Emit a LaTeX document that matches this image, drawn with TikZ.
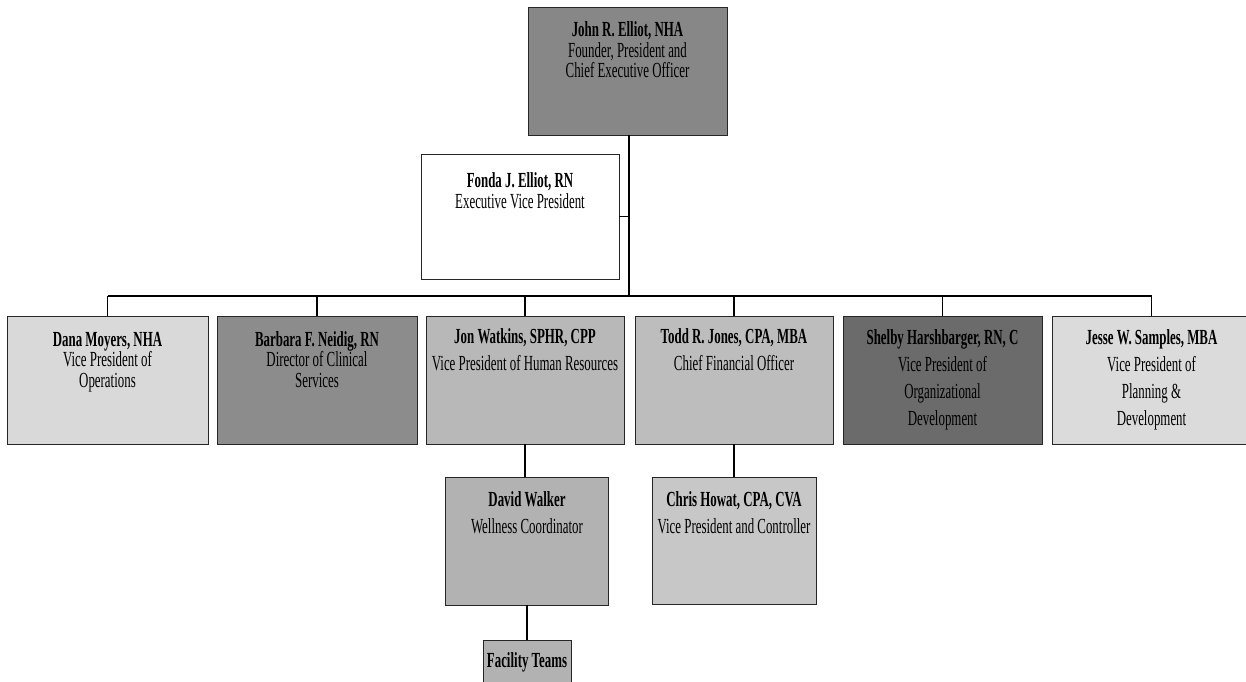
\documentclass[tikz,border=0pt]{standalone}
\usepackage{fontspec}
\setmainfont[FakeStretch=0.6]{Liberation Serif}
\newcommand\hstrut{\rule{0pt}{15.5pt}}
\begin{document}
\begin{tikzpicture}[x=1pt,y=-1pt,
  orgbox/.style={draw=black!85, line width=0.8pt, inner sep=0pt, rectangle},
  lbl/.style={anchor=north, inner sep=0pt, align=center, text=black},
  tight/.style={font=\fontsize{21.5}{20.5}\selectfont},
  loose/.style={font=\fontsize{21.5}{27}\selectfont},
  link/.style={line width=1.5pt, draw=black}]
\useasboundingbox (0,0) rectangle (1246,681);
% boxes
\node[orgbox, fill=black!47, minimum width=199pt, minimum height=128pt] (ceo) at (627.5,71) {};
\node[orgbox, fill=white, minimum width=198pt, minimum height=125pt] (fonda) at (520,216.5) {};
\node[orgbox, fill=black!15, minimum width=201pt, minimum height=128pt] (dana) at (107.5,380) {};
\node[orgbox, fill=black!45, minimum width=200pt, minimum height=128pt] (barbara) at (317,380) {};
\node[orgbox, fill=black!28, minimum width=198pt, minimum height=128pt] (jon) at (525,380) {};
\node[orgbox, fill=black!26, minimum width=198pt, minimum height=128pt] (todd) at (734,380) {};
\node[orgbox, fill=black!58, minimum width=199pt, minimum height=128pt] (shelby) at (942.5,380) {};
\node[orgbox, fill=black!14, minimum width=199pt, minimum height=128pt] (jesse) at (1151.5,380) {};
\node[orgbox, fill=black!30, minimum width=163pt, minimum height=128pt] (david) at (527,541) {};
\node[orgbox, fill=black!22, minimum width=164pt, minimum height=127pt] (chris) at (734,540.5) {};
\node[orgbox, fill=black!30, minimum width=88pt, minimum height=44pt] (facility) at (527,662) {};
% connectors
\coordinate (bus) at (629,296);
\draw[link] (bus |- ceo.south) -- (bus);
\draw[link] (fonda.east) -- (fonda.east -| bus);
\draw[link] (bus -| dana.north) -- (bus -| jesse.north);
\foreach \n in {dana,barbara,jon,todd,shelby,jesse}
  \draw[link] (bus -| \n.north) -- (\n.north);
\draw[link] (jon.south) -- (jon.south |- david.north);
\draw[link] (todd.south) -- (todd.south |- chris.north);
\draw[link] (david.south) -- (david.south |- facility.north);
% texts
\node[lbl, tight] (ceo-t) at ([yshift=-14.5pt]ceo.north) {\hstrut\textbf{John R. Elliot, NHA}\\Founder, President and\\Chief Executive Officer};
\node[lbl, tight] (fonda-t) at ([yshift=-18.5pt]fonda.north) {\hstrut\textbf{Fonda J. Elliot, RN}\\Executive Vice President};
\node[lbl, tight] (dana-t) at ([yshift=-15pt]dana.north) {\hstrut\textbf{Dana Moyers, NHA}\\Vice President of\\Operations};
\node[lbl, tight] (barbara-t) at ([yshift=-15pt]barbara.north) {\hstrut\textbf{Barbara F. Neidig, RN}\\Director of Clinical\\Services};
\node[lbl, loose] (jon-t) at ([yshift=-12.5pt]jon.north) {\hstrut\textbf{Jon Watkins, SPHR, CPP}\\Vice President of Human Resources};
\node[lbl, loose] (todd-t) at ([yshift=-12.5pt]todd.north) {\hstrut\textbf{Todd R. Jones, CPA, MBA}\\Chief Financial Officer};
\node[lbl, loose] (shelby-t) at ([yshift=-13pt]shelby.north) {\hstrut\textbf{Shelby Harshbarger, RN, C}\\Vice President of\\Organizational\\Development};
\node[lbl, loose] (jesse-t) at ([yshift=-13pt]jesse.north) {\hstrut\textbf{Jesse W. Samples, MBA}\\Vice President of\\Planning \&\\Development};
\node[lbl, loose] (david-t) at ([yshift=-14.5pt]david.north) {\hstrut\textbf{David Walker}\\Wellness Coordinator};
\node[lbl, loose] (chris-t) at ([yshift=-14.5pt]chris.north) {\hstrut\textbf{Chris Howat, CPA, CVA}\\Vice President and Controller};
\node[lbl, tight] (facility-t) at ([yshift=-12.5pt]facility.north) {\hstrut\textbf{Facility Teams}};
\end{tikzpicture}
\end{document}
